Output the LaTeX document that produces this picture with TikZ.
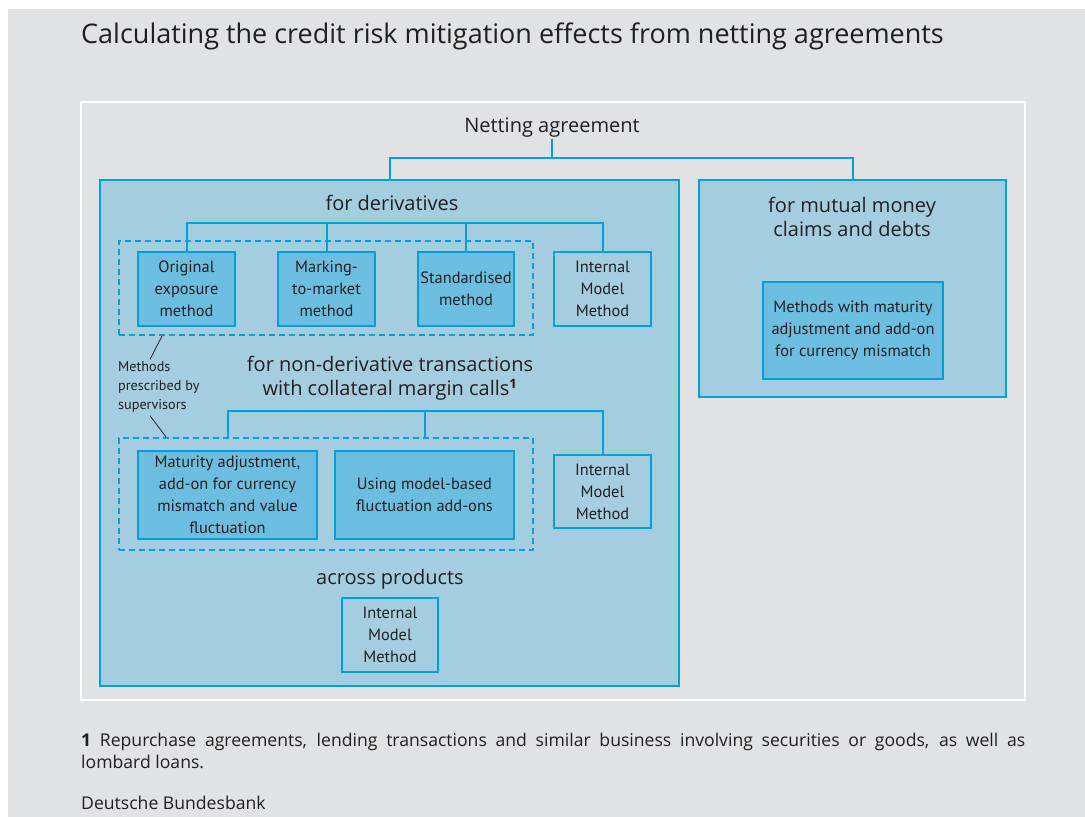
\documentclass[tikz,border=0pt]{standalone}
\usepackage{fontspec}
\setmainfont{Open Sans}
\newfontfamily\narrowfont{PT Sans}
\usepackage{xcolor}

\definecolor{pagegray}{RGB}{225,226,228}
\definecolor{bbblue}{RGB}{0,158,222}
\definecolor{panelfill}{RGB}{165,205,224}
\definecolor{methfill}{RGB}{108,190,224}
\definecolor{ink}{RGB}{35,31,32}

\tikzset{
  panel/.style={draw=bbblue,fill=panelfill,line width=2.2pt,inner sep=0pt},
  method/.style={draw=bbblue,fill=methfill,line width=2.2pt,inner sep=0pt,align=center,
    text=ink,font=\narrowfont\fontsize{16.4}{22}\selectfont},
  imm/.style={method,fill=panelfill},
  group/.style={draw=bbblue,line width=1.8pt,dash pattern=on 6pt off 4pt,inner sep=0pt},
  head/.style={text=ink,align=center,inner sep=1pt,font=\fontsize{20}{24}\selectfont},
  link/.style={draw=bbblue,line width=2pt},
  pointer/.style={draw=ink,line width=0.8pt},
}

\begin{document}
\begin{tikzpicture}[x=1pt,y=-1pt]
  \fill[white] (0,0) rectangle (1085,817);
  \fill[pagegray] (8,9) rectangle (1085,817);
  \node[anchor=west,text=ink,inner sep=0pt,font=\fontsize{27}{32}\selectfont] (title) at (81,36)
    {Calculating the credit risk mitigation effects from netting agreements};
  \node[draw=white,line width=2pt,minimum width=944,minimum height=598] (frame) at (553,401) {};

  % top level
  \node[head] (net) at (552,128) {Netting agreement};
  \node[panel,minimum width=579,minimum height=506] (deriv) at (389.5,433) {};
  \node[panel,minimum width=307,minimum height=217] (money) at (852.5,288.5) {};
  \coordinate (split) at (552,158);
  \draw[link] (net) -- (split);
  \draw[link] (deriv.north) |- (split) -| (money.north);

  % derivatives
  \node[head] (forderiv) at (392,203) {for derivatives};
  \node[group,minimum width=414,minimum height=94] (grp1) at (326,288) {};
  \node[method,minimum width=97,minimum height=74] (oem) at (186.5,289) {Original\\exposure\\method};
  \node[method,minimum width=97,minimum height=74] (mtm) at (326.5,289) {Marking-\\to-market\\method};
  \node[method,minimum width=96,minimum height=74] (std) at (466,289) {Standardised\\method};
  \node[imm,minimum width=97,minimum height=74] (imm1) at (602.5,289) {Internal\\Model\\Method};
  \draw[link] (oem.north) -- ++(0,-28) -| (imm1.north);
  \foreach \n in {mtm,std}{\draw[link] (\n.north) -- ++(0,-28);}

  % non-derivative transactions
  \node[head] (nonderiv) at (390,378.5) {for non-derivative transactions\\with collateral margin
    calls\textsuperscript{\bfseries\fontsize{13}{13}\selectfont 1}};
  \node[group,minimum width=414,minimum height=112] (grp2) at (326,494) {};
  \node[method,minimum width=179,minimum height=88] (mat) at (227.5,495)
    {Maturity adjustment,\\add-on for currency\\mismatch and value\\fluctuation};
  \node[method,minimum width=179,minimum height=88] (mfa) at (424.5,495) {Using model-based\\fluctuation add-ons};
  \node[imm,minimum width=97,minimum height=73] (imm2) at (602.5,491.5) {Internal\\Model\\Method};
  \draw[link] (grp2.north -| mat.north) -- ++(0,-26) -| (imm2.north);
  \draw[link] (grp2.north -| mfa.north) -- ++(0,-26);

  \node[anchor=west,align=left,inner sep=0pt,text=ink,font=\narrowfont\fontsize{14.2}{19}\selectfont]
    (prescr) at (118,387) {Methods\\prescribed by\\supervisors};
  \draw[pointer] ([xshift=32pt,yshift=2pt]prescr.north west) -- ([xshift=44pt]grp1.south west);
  \draw[pointer] ([xshift=32pt,yshift=-3pt]prescr.south west) -- ([xshift=48pt]grp2.north west);

  % across products
  \node[head] (across) at (390,579) {across products};
  \node[imm,minimum width=96,minimum height=74] (imm3) at (390,635) {Internal\\Model\\Method};

  % money claims and debts
  \node[head] (formoney) at (852,217) {for mutual money\\claims and debts};
  \node[method,minimum width=180,minimum height=97] (mwm) at (853,330.5)
    {Methods with maturity\\adjustment and add-on\\for currency mismatch};

  % notes
  \node[anchor=north west,inner sep=0pt,text width=944pt,align=justify,text=ink,
    font=\fontsize{17.6}{22}\selectfont] (note) at (81,733)
    {\textbf{1} Repurchase agreements, lending transactions and similar business involving securities or goods, as well as\linebreak lombard loans.};
  \node[anchor=west,inner sep=0pt,text=ink,font=\fontsize{17.6}{22}\selectfont] (source) at (81,803) {Deutsche Bundesbank};
\end{tikzpicture}
\end{document}
